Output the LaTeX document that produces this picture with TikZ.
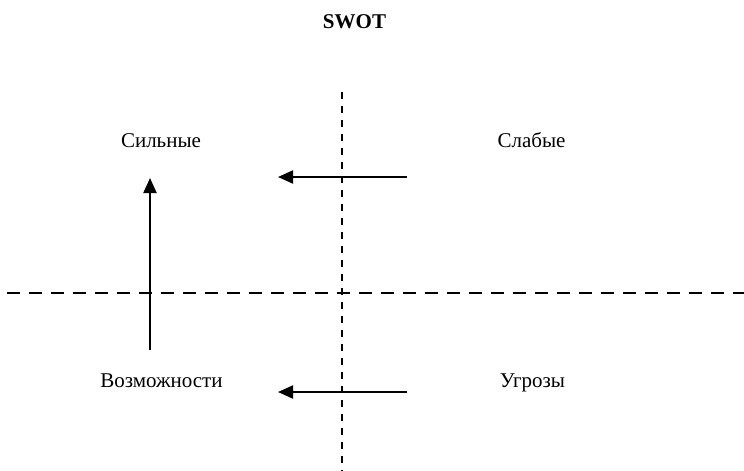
\documentclass[tikz,border=0pt]{standalone}
\usepackage{fontspec}
\setmainfont{Liberation Serif}
\usetikzlibrary{arrows.meta}
\tikzset{
  lbl/.style={anchor=base, inner sep=0pt, font=\fontsize{21}{24}\selectfont},
  ttl/.style={anchor=base, inner sep=0pt, font=\fontsize{21}{24}\selectfont\bfseries},
  vdash/.style={line width=2pt, dash pattern=on 7pt off 7pt},
  hdash/.style={line width=2pt, dash pattern=on 12.5pt off 9.5pt},
  arr/.style={line width=2pt, -{Triangle[length=15pt,width=13pt]}}
}
\begin{document}
\begin{tikzpicture}[x=1pt,y=-1pt]
\useasboundingbox (0,0) rectangle (744,471);
\node[ttl] (swot) at (354.5,28) {SWOT};
\node[lbl] (s) at (161,147) {Сильные};
\node[lbl] (w) at (531.5,147) {Слабые};
\node[lbl] (o) at (161.5,387.5) {Возможности};
\node[lbl] (t) at (532.5,387.5) {Угрозы};
\coordinate (vt) at (342,92);
\coordinate (vb) at (342,471);
\coordinate (hl) at (7,293);
\coordinate (hr) at (744,293);
\coordinate (ua) at (150,350);
\coordinate (ub) at (150,178);
\coordinate (wa) at (407,177);
\coordinate (wb) at (278,177);
\coordinate (ta) at (407,392);
\coordinate (tb) at (278,392);
\draw[vdash] (vt) -- (vb);
\draw[hdash] (hl) -- (hr);
\draw[arr] (ua) -- (ub);
\draw[arr] (wa) -- (wb);
\draw[arr] (ta) -- (tb);
\end{tikzpicture}
\end{document}
